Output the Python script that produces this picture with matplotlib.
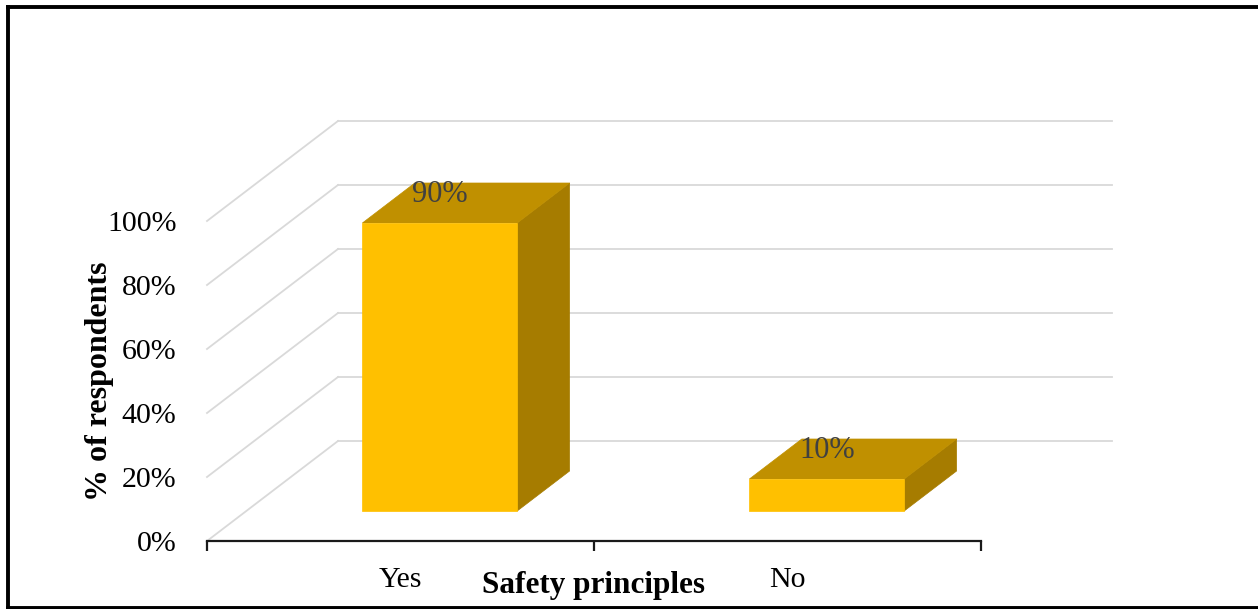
import matplotlib
matplotlib.use("Agg")
import matplotlib.pyplot as plt
from matplotlib.patches import Polygon
from matplotlib.lines import Line2D
from matplotlib.ticker import FuncFormatter

# Data
categories = ["Yes", "No"]
shares = [0.90, 0.10]
value_ticks = [0.0, 0.2, 0.4, 0.6, 0.8, 1.0]
x_title = "Safety principles"
y_title = "% of respondents"

# Styling
plt.rcParams["font.family"] = ["Liberation Serif", "DejaVu Serif"]
FRONT = "#FFC000"
TOP = "#C09000"
SIDE = "#A67C00"
GRID = "#D9D9D9"

W, H = 1258, 609
fig = plt.figure(figsize=(W / 100, H / 100), dpi=100)
fig.patch.set_facecolor("white")

# Axes spans the front plane of the pseudo-3D chart
left, right, top, bottom = 207, 981, 221, 541
ax = fig.add_axes([left / W, 1 - bottom / H, (right - left) / W, (bottom - top) / H])
ncat = len(categories)
ax.set_xlim(0, ncat)
ax.set_ylim(0, 1)
ax.patch.set_alpha(0)

# Oblique depth offsets in data units
DX = 131 / ((right - left) / ncat)
DY = 100 / (bottom - top)

# Walls: side wall diagonals and back wall gridlines
for v in value_ticks:
    ax.add_line(Line2D([0, DX], [v, v + DY], color=GRID, lw=1.3, clip_on=False, zorder=1))
    ax.add_line(Line2D([DX, ncat + DX], [v + DY, v + DY], color=GRID, lw=1.3,
                       clip_on=False, zorder=1))

# Bars as oblique boxes
half_w = 0.2
d0, d1 = 0.3, 0.7
for i, v in enumerate(shares):
    c = i + 0.5
    xl, xr = c - half_w, c + half_w
    front = [(xl + d0 * DX, d0 * DY), (xr + d0 * DX, d0 * DY),
             (xr + d0 * DX, v + d0 * DY), (xl + d0 * DX, v + d0 * DY)]
    topf = [(xl + d0 * DX, v + d0 * DY), (xr + d0 * DX, v + d0 * DY),
            (xr + d1 * DX, v + d1 * DY), (xl + d1 * DX, v + d1 * DY)]
    side = [(xr + d0 * DX, d0 * DY), (xr + d1 * DX, d1 * DY),
            (xr + d1 * DX, v + d1 * DY), (xr + d0 * DX, v + d0 * DY)]
    for pts, col in ((side, SIDE), (topf, TOP), (front, FRONT)):
        ax.add_patch(Polygon(pts, closed=True, facecolor=col, edgecolor=col,
                             lw=0.5, clip_on=False, zorder=3))
    ax.annotate(f"{v:.0%}", xy=(c + d0 * DX, v + d0 * DY), xytext=(0, 20.5),
                textcoords="offset points", ha="center", va="center",
                fontsize=22, color="#404040", zorder=5, annotation_clip=False)

# Axes styling
for s in ("top", "right", "left"):
    ax.spines[s].set_visible(False)
ax.spines["bottom"].set_color("#1a1a1a")
ax.spines["bottom"].set_linewidth(1.6)
ax.spines["bottom"].set_zorder(4)

ax.set_yticks(value_ticks)
ax.yaxis.set_major_formatter(FuncFormatter(lambda v, _: f"{v:.0%}"))
ax.tick_params(axis="y", length=0, pad=22, labelsize=21.5, labelcolor="black")

ax.set_xticks(range(ncat + 1))
ax.set_xticklabels([""] * (ncat + 1))
ax.set_xticks([i + 0.5 for i in range(ncat)], minor=True)
ax.set_xticklabels(categories, minor=True)
ax.tick_params(axis="x", which="major", direction="out", length=7.5, width=1.6,
               color="#1a1a1a")
ax.tick_params(axis="x", which="minor", length=0, pad=19, labelsize=21.5)

ax.set_xlabel(x_title, fontsize=22.5, fontweight="bold")
ax.xaxis.set_label_coords(0.5, (bottom - 585) / (bottom - top))
ax.xaxis.label.set_va("center")
ax.set_ylabel(y_title, fontsize=23, fontweight="bold")
ax.yaxis.set_label_coords((100 - left) / (right - left), 0.5)
ax.yaxis.label.set_va("center")

# Outer frame (open on the right side)
frame_kw = dict(color="black", lw=2.8, transform=fig.transFigure, zorder=10)
fig.add_artist(Line2D([8 / W, 1], [1 - 7 / H, 1 - 7 / H], **frame_kw))
fig.add_artist(Line2D([8 / W, 8 / W], [1 - 7 / H, 1 - 607.5 / H], **frame_kw))
fig.add_artist(Line2D([8 / W, 1], [1 - 607.5 / H, 1 - 607.5 / H], **frame_kw))

fig.savefig("out.png", dpi=100, facecolor="white")
